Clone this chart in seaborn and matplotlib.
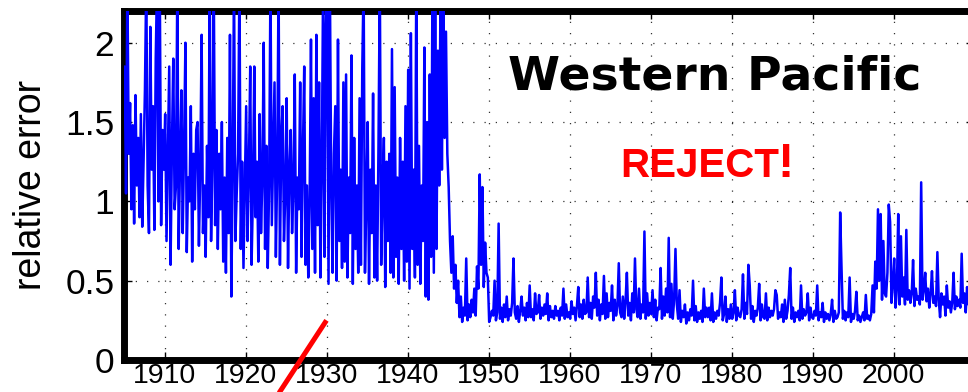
import numpy as np
import pandas as pd
import matplotlib
matplotlib.use("Agg")
import matplotlib.pyplot as plt
import seaborn as sns

# Relative error of the regional series, sampled every two months
# (six values per year, starting in 1905).
START_YEAR = 1905
PER_YEAR = 6

err_1905_1914 = [
    1.85, 1.05, 2.40, 1.30, 1.62, 0.95,
    1.48, 0.86, 1.67, 1.10, 1.40, 0.90,
    1.55, 0.84, 1.25, 1.70, 2.40, 1.10,
    0.80, 2.10, 1.20, 1.60, 0.82, 1.90,
    2.40, 1.00, 2.40, 0.85, 1.45, 1.20,
    1.55, 0.75, 1.30, 1.85, 0.60, 1.35,
    1.90, 0.95, 1.10, 2.40, 0.70, 1.25,
    1.70, 0.80, 1.35, 2.00, 0.68, 1.15,
    1.00, 1.60, 0.62, 1.30, 0.95, 1.45,
    1.50, 0.72, 1.20, 2.05, 0.80, 1.10,
]
err_1915_1924 = [
    0.65, 1.35, 0.90, 2.40, 0.75, 1.25,
    2.40, 0.85, 1.45, 0.70, 1.30, 0.95,
    1.50, 0.62, 1.15, 0.55, 1.40, 0.80,
    2.05, 0.40, 1.20, 2.40, 0.75, 1.05,
    1.30, 2.40, 0.70, 1.25, 0.58, 1.10,
    1.60, 0.75, 1.20, 1.85, 0.60, 1.05,
    1.85, 0.90, 1.25, 0.62, 1.55, 0.80,
    1.15, 2.00, 0.70, 1.35, 0.58, 1.10,
    2.40, 0.85, 1.30, 1.75, 0.65, 1.20,
    2.40, 0.60, 1.40, 1.60, 0.75, 1.05,
]
err_1925_1934 = [
    1.65, 0.58, 1.20, 1.45, 0.80, 1.10,
    1.80, 0.55, 1.15, 0.95, 1.75, 0.65,
    1.30, 1.85, 0.60, 1.10, 0.52, 1.00,
    2.02, 0.70, 1.65, 0.55, 2.05, 0.85,
    1.75, 0.52, 1.20, 2.40, 0.65, 2.10,
    2.40, 0.48, 2.40, 1.10, 0.55, 1.30,
    1.60, 0.50, 2.02, 0.75, 1.20, 0.58,
    1.75, 0.62, 1.80, 0.52, 1.15, 0.80,
    1.92, 0.48, 1.40, 0.70, 1.10, 0.55,
    1.65, 0.60, 1.84, 2.40, 0.55, 1.00,
]
err_1935_1944 = [
    1.50, 0.48, 1.20, 0.80, 1.68, 0.52,
    1.10, 0.50, 1.35, 2.40, 0.60, 1.05,
    1.40, 0.46, 1.25, 0.75, 1.30, 0.55,
    1.96, 0.52, 1.72, 0.65, 1.15, 0.48,
    1.40, 0.70, 1.25, 0.50, 1.60, 0.62,
    1.83, 0.45, 2.06, 0.70, 1.20, 0.52,
    2.40, 0.60, 1.35, 0.48, 1.10, 0.75,
    1.97, 0.40, 1.50, 0.38, 1.80, 0.65,
    2.40, 0.55, 2.40, 0.70, 1.95, 1.10,
    2.40, 1.20, 2.40, 1.40, 2.07, 1.30,
]
err_1945_1954 = [
    1.09, 0.75, 0.55, 0.78, 0.45, 0.60,
    0.36, 0.50, 0.27, 0.40, 0.24, 0.33,
    0.28, 0.64, 0.25, 0.35, 0.27, 0.38,
    0.30, 0.45, 0.28, 0.59, 0.45, 1.17,
    0.60, 1.09, 0.46, 0.74, 0.55, 0.52,
    0.24, 0.27, 0.31, 0.28, 0.50, 0.25,
    0.30, 0.86, 0.26, 0.33, 0.24, 0.35,
    0.27, 0.40, 0.25, 0.32, 0.28, 0.36,
    0.64, 0.30, 0.26, 0.34, 0.24, 0.31,
    0.40, 0.28, 0.33, 0.25, 0.36, 0.27,
]
err_1955_1964 = [
    0.47, 0.27, 0.32, 0.25, 0.42, 0.29,
    0.30, 0.41, 0.26, 0.33, 0.28, 0.35,
    0.29, 0.42, 0.25, 0.34, 0.27, 0.31,
    0.26, 0.34, 0.28, 0.31, 0.25, 0.33,
    0.28, 0.45, 0.26, 0.35, 0.27, 0.30,
    0.26, 0.37, 0.29, 0.33, 0.25, 0.34,
    0.46, 0.27, 0.35, 0.26, 0.38, 0.29,
    0.30, 0.52, 0.27, 0.36, 0.26, 0.40,
    0.33, 0.55, 0.28, 0.38, 0.25, 0.35,
    0.29, 0.53, 0.26, 0.42, 0.27, 0.36,
]
err_1965_1974 = [
    0.31, 0.47, 0.25, 0.38, 0.28, 0.34,
    0.61, 0.30, 0.27, 0.40, 0.26, 0.37,
    0.55, 0.28, 0.36, 0.25, 0.42, 0.30,
    0.64, 0.32, 0.27, 0.45, 0.26, 0.35,
    0.30, 0.81, 0.26, 0.42, 0.28, 0.36,
    0.29, 0.44, 0.27, 0.38, 0.25, 0.33,
    0.32, 0.58, 0.26, 0.40, 0.28, 0.45,
    0.30, 0.77, 0.27, 0.48, 0.26, 0.38,
    0.70, 0.35, 0.26, 0.44, 0.24, 0.31,
    0.27, 0.35, 0.23, 0.30, 0.25, 0.32,
]
err_1975_1984 = [
    0.28, 0.50, 0.25, 0.34, 0.24, 0.30,
    0.26, 0.31, 0.24, 0.45, 0.27, 0.33,
    0.27, 0.33, 0.25, 0.42, 0.24, 0.30,
    0.26, 0.31, 0.28, 0.36, 0.52, 0.25,
    0.29, 0.40, 0.24, 0.32, 0.26, 0.35,
    0.26, 0.30, 0.44, 0.25, 0.33, 0.28,
    0.27, 0.32, 0.54, 0.26, 0.36, 0.29,
    0.60, 0.47, 0.26, 0.34, 0.24, 0.31,
    0.28, 0.33, 0.48, 0.25, 0.35, 0.27,
    0.26, 0.42, 0.25, 0.33, 0.27, 0.31,
]
err_1985_1994 = [
    0.28, 0.32, 0.44, 0.41, 0.26, 0.30,
    0.27, 0.35, 0.24, 0.38, 0.26, 0.31,
    0.41, 0.58, 0.26, 0.33, 0.24, 0.30,
    0.27, 0.31, 0.25, 0.47, 0.26, 0.32,
    0.28, 0.30, 0.42, 0.25, 0.33, 0.27,
    0.26, 0.31, 0.28, 0.47, 0.25, 0.30,
    0.27, 0.36, 0.24, 0.30, 0.26, 0.29,
    0.25, 0.29, 0.38, 0.24, 0.31, 0.26,
    0.27, 0.30, 0.93, 0.58, 0.26, 0.31,
    0.25, 0.30, 0.27, 0.52, 0.24, 0.29,
]
err_1995_2009 = [
    0.26, 0.31, 0.43, 0.25, 0.28, 0.24,
    0.27, 0.30, 0.25, 0.41, 0.26, 0.28,
    0.25, 0.29, 0.47, 0.30, 0.62, 0.45,
    0.95, 0.50, 0.92, 0.38, 0.75, 0.42,
    0.40, 0.55, 0.98, 0.87, 0.36, 0.48,
    0.64, 0.33, 0.45, 0.92, 0.35, 0.78,
    0.40, 0.52, 0.35, 0.82, 0.38, 0.44,
    0.36, 0.42, 0.63, 0.34, 0.45, 0.38,
    0.40, 0.35, 1.12, 0.38, 0.44, 0.55,
    0.37, 0.45, 0.33, 0.42, 0.56, 0.36,
    0.40, 0.34, 0.68, 0.38, 0.27, 0.42,
    0.35, 0.40, 0.28, 0.47, 0.33, 0.37,
    0.30, 0.36, 0.55, 0.32, 0.40, 0.34,
    0.38, 0.33, 0.67, 0.36, 0.42, 0.30,
    0.46, 0.35, 0.38, 0.33, 0.40, 0.36,
]

x_ticks = [1910, 1920, 1930, 1940, 1950, 1960, 1970, 1980, 1990, 2000]
y_ticks = [0, 0.5, 1, 1.5, 2]
y_tick_labels = ["0", "0.5", "1", "1.5", "2"]
title_text = "Western Pacific"
verdict_text = "REJECT"
ylabel_text = "relative error"

# Strike-through mark drawn across the lower axis (data coordinates)
strike_x = [1930.0, 1923.6]
strike_y = [0.25, -0.25]

values = np.concatenate([err_1905_1914, err_1915_1924, err_1925_1934,
                         err_1935_1944, err_1945_1954, err_1955_1964,
                         err_1965_1974, err_1975_1984, err_1985_1994,
                         err_1995_2009])
years = START_YEAR + (np.arange(len(values)) + 0.5) / PER_YEAR
df = pd.DataFrame({"year": years, "rel_err": values})

sns.set_style("white")
plt.rcParams["font.family"] = ["Liberation Sans", "DejaVu Sans"]

W, H = 968, 392
fig = plt.figure(figsize=(W / 100, H / 100), dpi=100)
left_px, right_px, top_px, bottom_px = 124, 974.5, 11, 360
ax = fig.add_axes([left_px / W, (H - bottom_px) / H,
                   (right_px - left_px) / W, (bottom_px - top_px) / H])

sns.lineplot(data=df, x="year", y="rel_err", ax=ax, color="#0000ff",
             linewidth=1.8, estimator=None, sort=False, zorder=3)

ax.set_xlim(1905, 2010)
ax.set_ylim(0, 2.2)
ax.set_xticks(x_ticks)
ax.set_xticklabels([str(v) for v in x_ticks])
ax.set_yticks(y_ticks)
ax.set_yticklabels(y_tick_labels)
ax.set_xlabel("")
ax.set_ylabel("")

ax.grid(True, color="black", linestyle=(0, (1, 8)), linewidth=0.9, alpha=0.8)
ax.tick_params(axis="both", direction="in", length=6, width=1.0,
               top=True, right=True, bottom=True, left=True, colors="black")
ax.tick_params(axis="x", labelsize=20.5, pad=2)
ax.tick_params(axis="y", labelsize=25.5, pad=7)

for side in ["left", "right", "top", "bottom"]:
    ax.spines[side].set_visible(True)
    ax.spines[side].set_color("black")
    ax.spines[side].set_linewidth(5)

fig.text(31 / W, 1 - 185 / H, ylabel_text, rotation=90, fontsize=27,
         ha="center", va="center", color="black")

ax.text(1977.9, 1.708, title_text, fontsize=34, fontweight="bold",
        family=["DejaVu Sans"], ha="center", va="baseline", color="black",
        zorder=5)
ax.text(1985.9, 1.153, verdict_text, fontsize=29, fontweight="bold",
        ha="right", va="baseline", color="#ff0000", zorder=5)
ax.text(1985.7, 1.153, "!", fontsize=35, fontweight="bold",
        ha="left", va="baseline", color="#ff0000", zorder=5)

ax.plot(strike_x, strike_y, color="#ff0000", linewidth=3.6,
        solid_capstyle="butt", clip_on=False, zorder=6)

fig.savefig("out.png", dpi=100)
